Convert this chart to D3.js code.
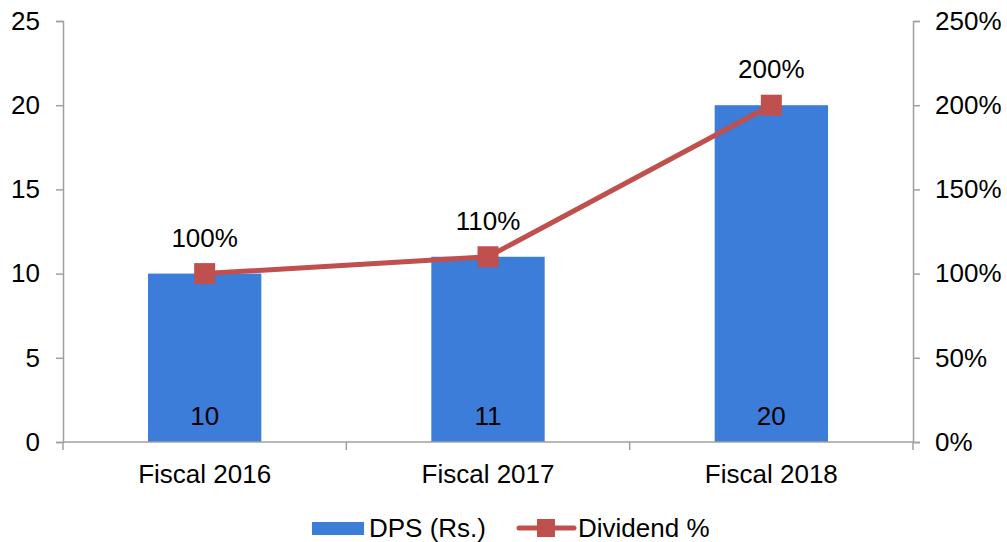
<!DOCTYPE html>
<html>
<head>
<meta charset="utf-8">
<script src="https://cdn.jsdelivr.net/npm/d3@7"></script>
<style>
  body { margin: 0; background: #fff; }
  text { font-family: "Liberation Sans", Arial, sans-serif; fill: #000; }
</style>
</head>
<body>
<div id="chart"></div>
<script>
var categories = ["Fiscal 2016", "Fiscal 2017", "Fiscal 2018"];
var dps = [10, 11, 20];
var dividendPct = [100, 110, 200];
var leftTicks = [0, 5, 10, 15, 20, 25];
var rightTicks = [0, 50, 100, 150, 200, 250];

var width = 1007, height = 542;
var margin = {top: 21, right: 94, bottom: 100, left: 63};
var innerW = width - margin.left - margin.right;
var innerH = height - margin.top - margin.bottom;
var fs = 26;

var barColor = "#3c7dd9", lineColor = "#c0504d", axisColor = "#a0a0a0";

var svg = d3.select("#chart").append("svg")
  .attr("width", width)
  .attr("height", height);

var g = svg.append("g")
  .attr("transform", "translate(" + margin.left + "," + margin.top + ")");

var x = d3.scaleBand().domain(categories).range([0, innerW]).paddingInner(0.6).paddingOuter(0.3);
var yL = d3.scaleLinear().domain([0, 25]).range([innerH, 0]);
var yR = d3.scaleLinear().domain([0, 250]).range([innerH, 0]);

// bars
g.selectAll(".bar").data(dps).enter().append("rect")
  .attr("class", "bar")
  .attr("x", function(d, i) { return x(categories[i]); })
  .attr("y", function(d) { return yL(d); })
  .attr("width", x.bandwidth())
  .attr("height", function(d) { return innerH - yL(d); })
  .attr("fill", barColor);

// left axis
var leftAxis = g.append("g")
  .call(d3.axisLeft(yL).tickValues(leftTicks).tickSize(7).tickPadding(16));
// right axis
var rightAxis = g.append("g")
  .attr("transform", "translate(" + innerW + ",0)")
  .call(d3.axisRight(yR).tickValues(rightTicks).tickSize(7).tickPadding(15)
    .tickFormat(function(d) { return d + "%"; }));

// bottom axis with ticks at category boundaries
var bottom = g.append("g").attr("transform", "translate(0," + innerH + ")");
bottom.append("line").attr("x1", 0).attr("x2", innerW).attr("stroke", axisColor).attr("stroke-width", 1.5);
var step = innerW / categories.length;
d3.range(categories.length + 1).forEach(function(i) {
  bottom.append("line").attr("x1", i * step).attr("x2", i * step)
    .attr("y1", 0).attr("y2", 8).attr("stroke", axisColor).attr("stroke-width", 1.5);
});
bottom.selectAll(".xl").data(categories).enter().append("text")
  .attr("x", function(d) { return x(d) + x.bandwidth() / 2; })
  .attr("y", 41)
  .attr("text-anchor", "middle")
  .attr("font-size", fs)
  .text(function(d) { return d; });

[leftAxis, rightAxis].forEach(function(a) {
  a.select(".domain").attr("stroke", axisColor).attr("stroke-width", 1.5);
  a.selectAll(".tick line").attr("stroke", axisColor).attr("stroke-width", 1.5);
  a.selectAll(".tick text").attr("font-size", fs).attr("fill", "#000")
    .style("font-family", "'Liberation Sans', Arial, sans-serif");
});

// bar labels
g.selectAll(".blab").data(dps).enter().append("text")
  .attr("x", function(d, i) { return x(categories[i]) + x.bandwidth() / 2; })
  .attr("y", innerH - 17)
  .attr("text-anchor", "middle")
  .attr("font-size", fs)
  .text(function(d) { return d; });

// line
var cx = function(d, i) { return x(categories[i]) + x.bandwidth() / 2; };
var line = d3.line().x(cx).y(function(d) { return yR(d); });
g.append("path").datum(dividendPct)
  .attr("d", line)
  .attr("fill", "none")
  .attr("stroke", lineColor)
  .attr("stroke-width", 5);

g.selectAll(".mk").data(dividendPct).enter().append("rect")
  .attr("x", function(d, i) { return cx(d, i) - 10.5; })
  .attr("y", function(d) { return yR(d) - 10.5; })
  .attr("width", 21).attr("height", 21)
  .attr("fill", lineColor);

g.selectAll(".llab").data(dividendPct).enter().append("text")
  .attr("x", cx)
  .attr("y", function(d) { return yR(d) - 27; })
  .attr("text-anchor", "middle")
  .attr("font-size", fs)
  .text(function(d) { return d + "%"; });

// legend
var lg = svg.append("g").attr("transform", "translate(0,528)");
lg.append("rect").attr("x", 312).attr("y", -6).attr("width", 52).attr("height", 13).attr("fill", barColor);
lg.append("text").attr("x", 369).attr("y", 9).attr("font-size", fs).text("DPS (Rs.)");
lg.append("line").attr("x1", 519).attr("x2", 574).attr("y1", 0).attr("y2", 0)
  .attr("stroke", lineColor).attr("stroke-width", 5).attr("stroke-linecap", "round");
lg.append("rect").attr("x", 537).attr("y", -9).attr("width", 18).attr("height", 18).attr("fill", lineColor);
lg.append("text").attr("x", 578).attr("y", 9).attr("font-size", fs).text("Dividend %");
</script>
</body>
</html>
